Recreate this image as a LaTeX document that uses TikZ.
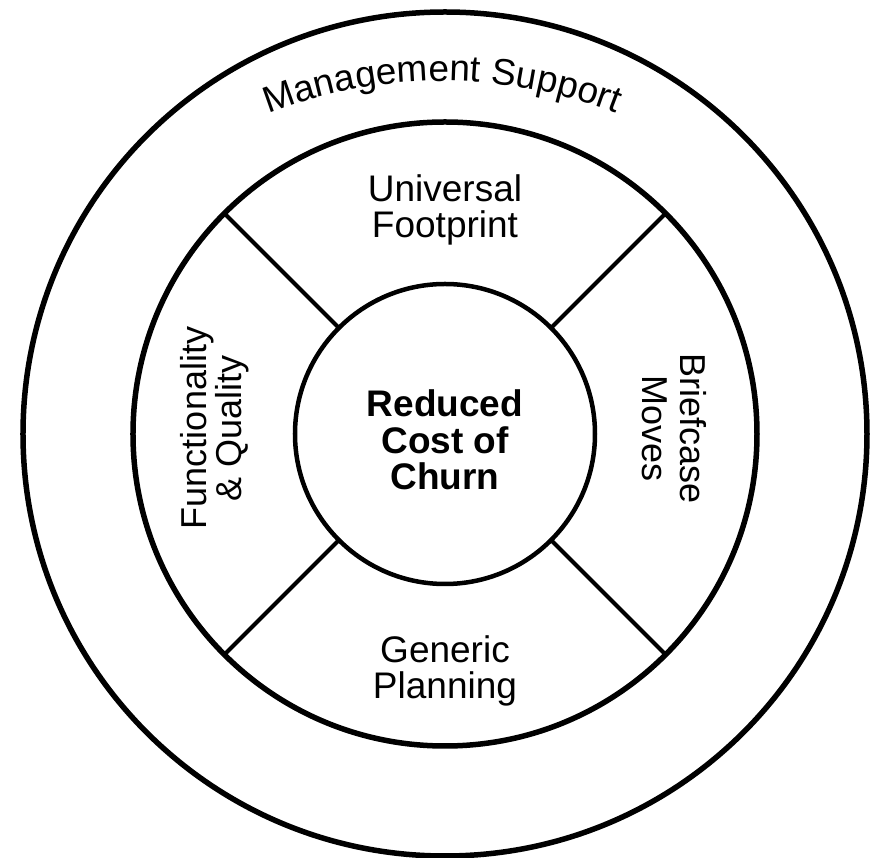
\documentclass[tikz,border=0pt]{standalone}
\usepackage{fontspec}
\setmainfont{Liberation Sans}
\usetikzlibrary{decorations.text,calc}
\begin{document}
\begin{tikzpicture}[x=1pt,y=1pt,
  ring/.style={circle, draw, line width=5.5pt, inner sep=0pt, outer sep=0pt},
  spoke/.style={line width=4pt},
  lbl/.style={font=\fontsize{37}{36.5}\selectfont, align=center, inner sep=0pt}]
\useasboundingbox (-445,-424) rectangle (428,434);
\node[ring, minimum size=844pt] (outer) at (0,0) {};
\node[ring, minimum size=624pt] (middle) at (0,0) {};
\node[ring, line width=4.5pt, minimum size=300pt] (core) at (0,0) {};
\foreach \a in {45,135,225,315}
  \draw[spoke] (core.\a) -- (middle.\a);
\node[lbl, font=\bfseries\fontsize{37}{36.5}\selectfont, anchor=base] (coretext) at (0,-56) {Reduced\\Cost of\\Churn};
\node[lbl, anchor=base] (top) at (0,196) {Universal\\Footprint};
\node[lbl, anchor=base] (bottom) at (0,-265) {Generic\\Planning};
\node[lbl, font=\fontsize{36}{35}\selectfont, rotate=90] (left) at (-230,6) {Functionality\\\& Quality};
\node[lbl, font=\fontsize{36}{38}\selectfont, rotate=-90] (right) at (229,5) {Briefcase\\Moves};
\coordinate (arcc) at (-3,-127);
\path[decorate, decoration={text along path, text align=center,
  text={|\fontsize{37}{37}\selectfont|Management Support}}]
  ($(arcc)+(115:480)$) arc (115:65:480);
\end{tikzpicture}
\end{document}
